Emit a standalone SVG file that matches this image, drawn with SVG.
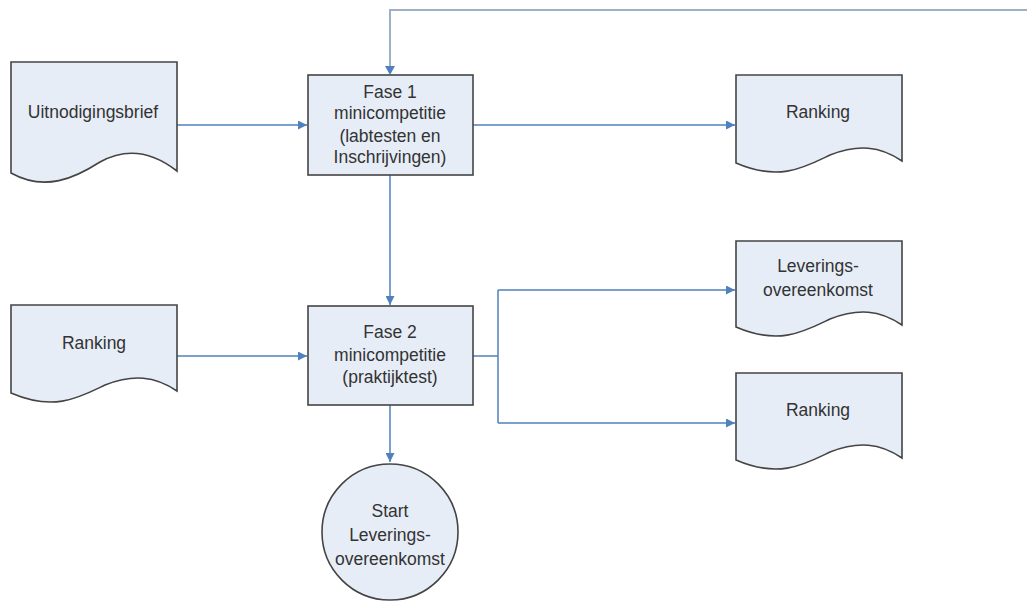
<svg xmlns="http://www.w3.org/2000/svg" width="1027" height="603" viewBox="0 0 1027 603">
<style>
.shape{fill:#e6edf7;stroke:#444;stroke-width:1.6}
.lbl{font-family:"Liberation Sans",Arial,sans-serif;font-size:17.5px;fill:#333;text-anchor:middle}
.con{fill:none;stroke:#4f81bd;stroke-width:1.5}
.loop{fill:none;stroke:#9fb0c6;stroke-width:2}
</style>
<defs>
<marker id="ah" viewBox="0 0 10 10" refX="10" refY="5" markerWidth="9" markerHeight="9" markerUnits="userSpaceOnUse" orient="auto">
<path d="M0,0 L10,5 L0,10 Z" fill="#4f81bd"/>
</marker>
</defs>
<rect width="1027" height="603" fill="#fff"/>
<g id="connectors">
<path class="loop" d="M1027,10 H390 V66"/>
<path d="M385,66 L395,66 L390,75 Z" fill="#4f81bd"/>
<path class="con" d="M177,125 H307" marker-end="url(#ah)"/>
<path class="con" d="M473,125 H735" marker-end="url(#ah)"/>
<path class="con" d="M390,175 V305" marker-end="url(#ah)"/>
<path class="con" d="M177,356 H307" marker-end="url(#ah)"/>
<path class="con" d="M473,356 H498"/>
<path class="con" d="M498,290 V423"/>
<path class="con" d="M498,290 H735" marker-end="url(#ah)"/>
<path class="con" d="M498,423 H735" marker-end="url(#ah)"/>
<path class="con" d="M390,405 V462" marker-end="url(#ah)"/>
</g>
<g id="uitnodigingsbrief">
<path class="shape" d="M11,62 H177 V171 C150,150 125,148 100,162 C75,178 45,192 11,173 Z"/>
<text class="lbl" x="93" y="118">Uitnodigingsbrief</text>
</g>
<g id="fase1">
<rect class="shape" x="308" y="75" width="165" height="100"/>
<text class="lbl" x="390" y="98">Fase 1</text>
<text class="lbl" x="390" y="119">minicompetitie</text>
<text class="lbl" x="390" y="142">(labtesten en</text>
<text class="lbl" x="390" y="163">Inschrijvingen)</text>
</g>
<g id="ranking1">
<path class="shape" d="M736,75 H902 V161 C880,146 858,144 830,155 C805,167 780,182 736,163 Z"/>
<text class="lbl" x="818" y="118">Ranking</text>
</g>
<g id="ranking-left">
<path class="shape" d="M11,305 H177 V391 C155,376 133,374 105,385 C80,397 55,412 11,393 Z"/>
<text class="lbl" x="94" y="349">Ranking</text>
</g>
<g id="fase2">
<rect class="shape" x="308" y="306" width="165" height="99"/>
<text class="lbl" x="390" y="338">Fase 2</text>
<text class="lbl" x="390" y="361">minicompetitie</text>
<text class="lbl" x="390" y="383">(praktijktest)</text>
</g>
<g id="leveringsovereenkomst">
<path class="shape" d="M736,241 H902 V325 C880,310 858,308 830,319 C805,331 780,346 736,327 Z"/>
<text class="lbl" x="818" y="272">Leverings-</text>
<text class="lbl" x="818" y="296">overeenkomst</text>
</g>
<g id="ranking2">
<path class="shape" d="M736,373 H902 V458 C880,443 858,441 830,452 C805,464 780,479 736,460 Z"/>
<text class="lbl" x="818" y="416">Ranking</text>
</g>
<g id="start">
<circle class="shape" cx="390" cy="532" r="68"/>
<text class="lbl" x="390" y="517">Start</text>
<text class="lbl" x="390" y="541">Leverings-</text>
<text class="lbl" x="390" y="565">overeenkomst</text>
</g>
</svg>
